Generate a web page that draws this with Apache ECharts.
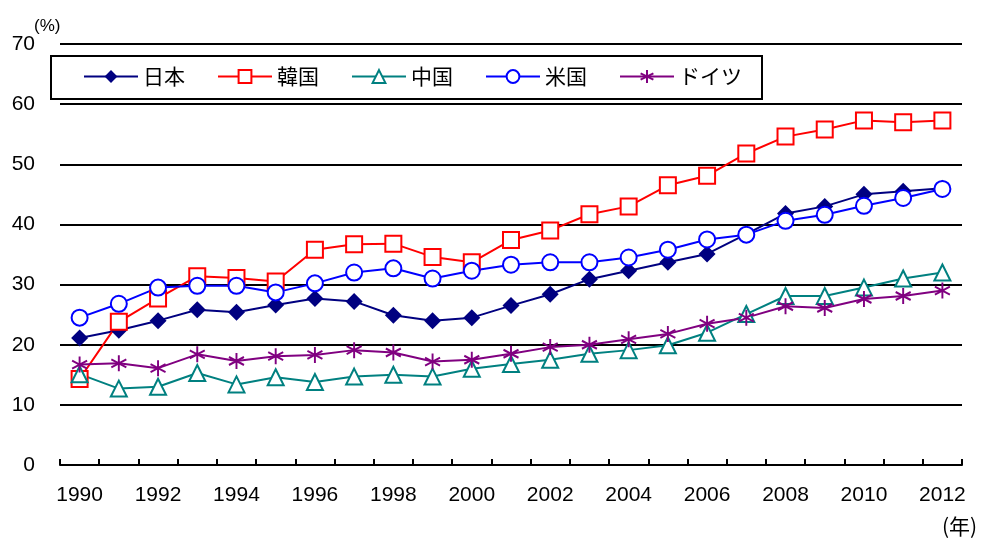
<!DOCTYPE html>
<html>
<head>
<meta charset="utf-8">
<script src="https://cdn.jsdelivr.net/npm/echarts@6/dist/echarts.min.js"></script>
<style>
  html, body { margin: 0; padding: 0; background: #fff; }
  #chart { width: 982px; height: 541px; }
</style>
</head>
<body>
<div id="chart"></div>
<script>
// Share (%) by country, 1990–2012
const years = ['1990','1991','1992','1993','1994','1995','1996','1997','1998','1999','2000','2001',
               '2002','2003','2004','2005','2006','2007','2008','2009','2010','2011','2012'];
const seriesNames = ['日本', '韓国', '中国', '米国', 'ドイツ'];
const japan   = [21.1, 22.4, 24.0, 25.8, 25.4, 26.6, 27.7, 27.2, 24.9, 24.0, 24.5, 26.5, 28.4, 30.9, 32.3, 33.7, 35.1, 38.4, 41.8, 43.0, 45.0, 45.5, 46.0];
const korea   = [14.3, 23.8, 27.7, 31.4, 31.1, 30.5, 35.8, 36.7, 36.8, 34.6, 33.7, 37.4, 39.0, 41.7, 43.0, 46.5, 48.1, 51.8, 54.6, 55.8, 57.3, 57.0, 57.3];
const china   = [15.1, 12.7, 13.0, 15.3, 13.4, 14.6, 13.8, 14.7, 15.0, 14.7, 16.0, 16.8, 17.5, 18.5, 19.1, 19.9, 22.0, 25.1, 28.1, 28.1, 29.5, 31.0, 32.0];
const usa     = [24.5, 26.8, 29.5, 29.8, 29.8, 28.7, 30.2, 32.0, 32.7, 31.0, 32.3, 33.3, 33.7, 33.7, 34.5, 35.8, 37.5, 38.3, 40.6, 41.6, 43.1, 44.4, 45.9];
const germany = [16.7, 16.9, 16.1, 18.4, 17.3, 18.1, 18.3, 19.1, 18.7, 17.2, 17.5, 18.5, 19.6, 20.0, 20.9, 21.8, 23.5, 24.5, 26.4, 26.1, 27.6, 28.1, 29.0];
const yTicks = { min: 0, max: 70, interval: 10 };

const NUM_FONT = '"Liberation Sans", Arial, sans-serif';
const JP_FONT = '"Noto Sans CJK JP", "Liberation Sans", sans-serif';

// six-armed asterisk marker
const asterisk = 'path://M0,-7L0,7M-6.06,-3.5L6.06,3.5M-6.06,3.5L6.06,-3.5';

function lineSeries(name, data, color, symbol, size, filled) {
  return {
    name: name,
    type: 'line',
    data: data,
    symbol: symbol,
    symbolSize: size,
    showAllSymbol: true,
    lineStyle: { color: color, width: 2 },
    itemStyle: {
      color: filled ? color : '#ffffff',
      borderColor: color,
      borderWidth: filled ? 0 : 2
    },
    emphasis: { disabled: true },
    animation: false
  };
}

const chart = echarts.init(document.getElementById('chart'), null, { renderer: 'canvas' });

const germanySeries = lineSeries(seriesNames[4], germany, '#800080', asterisk, [15, 16], false);
germanySeries.itemStyle.color = 'none';

chart.setOption({
  backgroundColor: '#ffffff',
  animation: false,
  grid: { left: 60, right: 20, top: 44, bottom: 76 },
  legend: {
    left: 83,
    top: 66,
    padding: 0,
    itemWidth: 54,
    itemHeight: 16,
    itemGap: 32,
    textStyle: { fontFamily: JP_FONT, fontSize: 21, color: '#000' },
    data: seriesNames
  },
  graphic: [
    {
      type: 'rect',
      left: 50, top: 55,
      shape: { width: 711, height: 43 },
      style: { fill: '#ffffff', stroke: '#000000', lineWidth: 2 },
      z: -1
    },
    {
      type: 'text',
      left: 34, top: 18,
      style: { text: '(%)', fontFamily: NUM_FONT, fontSize: 17, fill: '#000' }
    },
    {
      type: 'text',
      left: 942, top: 516,
      style: { text: '(年)', fontFamily: JP_FONT, fontSize: 21, fill: '#000' }
    }
  ],
  xAxis: {
    type: 'category',
    data: years,
    boundaryGap: true,
    axisLine: { show: true, lineStyle: { color: '#000', width: 2 } },
    axisTick: { show: true, inside: true, length: 6, interval: 0, lineStyle: { color: '#000', width: 2 } },
    axisLabel: { interval: 1, margin: 20, fontFamily: NUM_FONT, fontSize: 21, color: '#000' },
    splitLine: { show: false }
  },
  yAxis: {
    type: 'value',
    min: yTicks.min,
    max: yTicks.max,
    interval: yTicks.interval,
    axisLine: { show: false },
    axisTick: { show: false },
    axisLabel: { margin: 25, fontFamily: NUM_FONT, fontSize: 21, color: '#000' },
    splitLine: { show: true, lineStyle: { color: '#000', width: 2 } }
  },
  series: [
    lineSeries(seriesNames[0], japan, '#000080', 'diamond', 17, true),
    lineSeries(seriesNames[1], korea, '#ff0000', 'rect', 16, false),
    lineSeries(seriesNames[2], china, '#008080', 'triangle', 16, false),
    lineSeries(seriesNames[3], usa, '#0000ff', 'circle', 16, false),
    germanySeries
  ]
});
</script>
</body>
</html>
